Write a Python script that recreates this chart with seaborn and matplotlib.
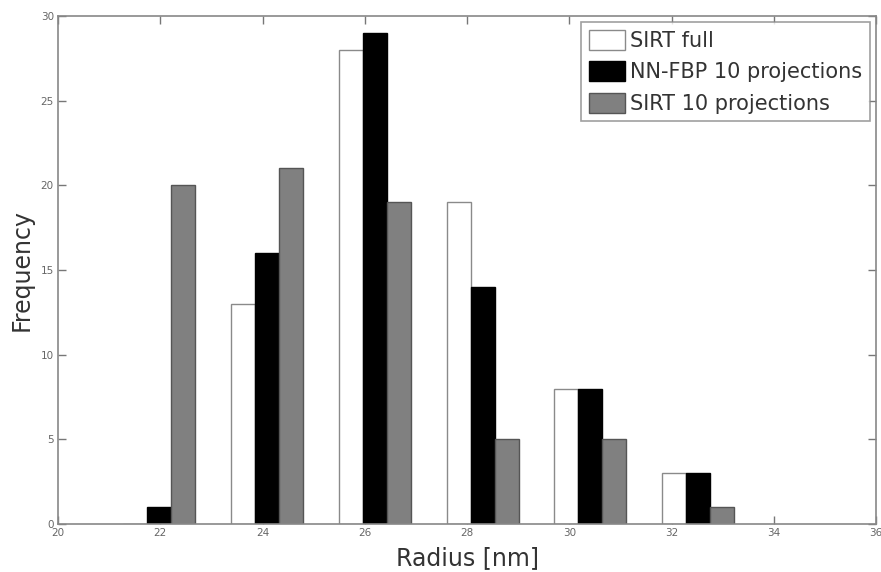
import numpy as np
import pandas as pd
import seaborn as sns
import matplotlib.pyplot as plt

# histogram bin centres (nm) and counts per method
radius = [21.98, 24.09, 26.20, 28.31, 30.41, 32.52]
sirt_full = [0, 13, 28, 19, 8, 3]
nnfbp_10 = [1, 16, 29, 14, 8, 3]
sirt_10 = [20, 21, 19, 5, 5, 1]
methods = ['SIRT full', 'NN-FBP 10 projections', 'SIRT 10 projections']
colors = ['white', 'black', '#808080']
edges = ['#8a8a8a', 'black', '#555555']

df = pd.DataFrame({
    'radius': radius * 3,
    'count': sirt_full + nnfbp_10 + sirt_10,
    'method': [m for m in methods for _ in radius],
})

sns.set_style('white')
plt.rcParams['font.family'] = ['DejaVu Sans']

fig = plt.figure(figsize=(8.81, 5.72), dpi=100)
ax = fig.add_axes([58 / 881, 1 - 524 / 572, (876 - 58) / 881, (524 - 16) / 572])

sns.barplot(data=df, x='radius', y='count', hue='method', hue_order=methods,
            palette=colors, native_scale=True, width=0.667, gap=0, dodge=True,
            edgecolor='#555555', linewidth=1, saturation=1, ax=ax, errorbar=None)

# edge colours per series like the original
for cont, ec in zip(ax.containers, edges):
    for bar in cont:
        bar.set_edgecolor(ec)

ax.set_xlim(20, 36)
ax.set_ylim(0, 30)
ax.set_xticks(np.arange(20, 37, 2))
ax.set_yticks(np.arange(0, 31, 5))
ax.tick_params(direction='in', length=6, width=1, color='#777777',
               labelcolor='#666666', labelsize=7.5, top=True, right=True,
               bottom=True, left=True, pad=3)
for s in ax.spines.values():
    s.set_color('#888888')
    s.set_linewidth(1.2)

ax.set_xlabel('Radius [nm]', fontsize=17, color='#333333', labelpad=6)
ax.set_ylabel('Frequency', fontsize=17, color='#333333', labelpad=5)

leg = ax.legend(loc='upper right', fontsize=15, frameon=True, fancybox=False,
                borderaxespad=0.3, handlelength=1.75, handleheight=1.1,
                labelspacing=0.5, handletextpad=0.25, borderpad=0.35)
leg.get_frame().set_edgecolor('#888888')
leg.get_frame().set_linewidth(1.2)
for h, ec in zip(leg.legend_handles, edges):
    h.set_edgecolor(ec)
for t in leg.get_texts():
    t.set_color('#333333')

fig.savefig('out.png', dpi=100)
